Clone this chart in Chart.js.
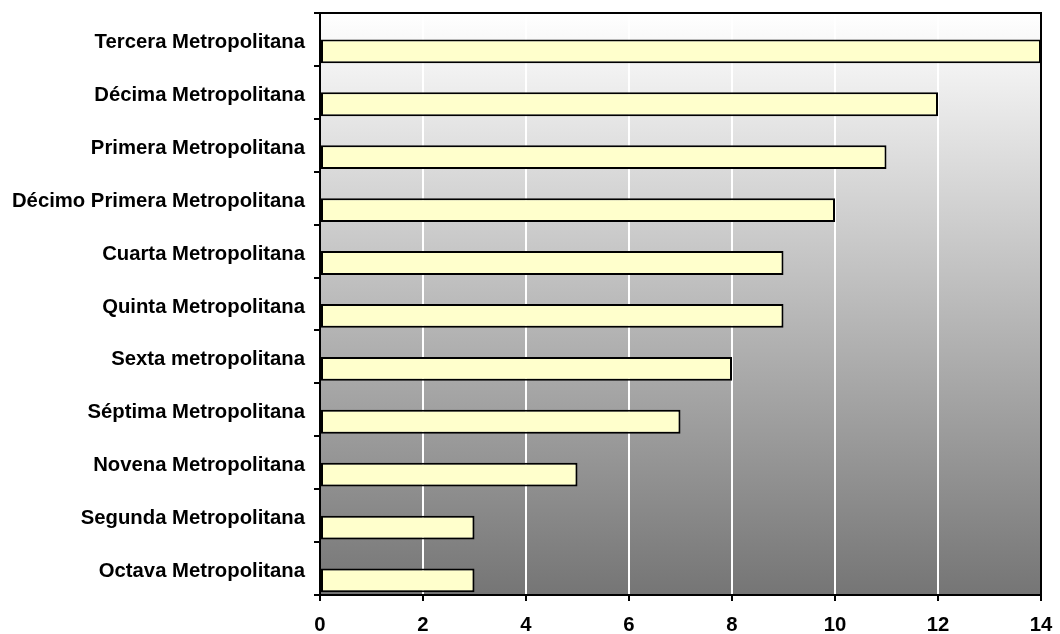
<!DOCTYPE html>
<html>
<head>
<meta charset="utf-8">
<script src="https://cdn.jsdelivr.net/npm/chart.js@4.4.1/dist/chart.umd.min.js"></script>
<style>
  html, body { margin: 0; padding: 0; background: #ffffff; }
  #wrap { width: 1060px; height: 634px; }
</style>
</head>
<body>
<div id="wrap"><canvas id="c" width="1060" height="634"></canvas></div>
<script>
// Regional offices, top to bottom
const categories = [
  'Tercera Metropolitana',
  'Décima Metropolitana',
  'Primera Metropolitana',
  'Décimo Primera Metropolitana',
  'Cuarta Metropolitana',
  'Quinta Metropolitana',
  'Sexta metropolitana',
  'Séptima Metropolitana',
  'Novena Metropolitana',
  'Segunda Metropolitana',
  'Octava Metropolitana'
];
const values = [14, 12, 11, 10, 9, 9, 8, 7, 5, 3, 3];
const xTicks = [0, 2, 4, 6, 8, 10, 12, 14];

// Empty companion series so every bar sits in the lower half of its row
const spacer = categories.map(() => null);

const FONT = { family: '"Liberation Sans", Arial, sans-serif', size: 20.3, weight: 'bold' };

// Grey gradient behind the plot and a black frame round it
const plotBackground = {
  id: 'plotBackground',
  beforeDraw(chart) {
    const { ctx, chartArea: a } = chart;
    const g = ctx.createLinearGradient(0, a.top, 0, a.bottom);
    g.addColorStop(0, '#ffffff');
    g.addColorStop(1, '#757575');
    ctx.save();
    ctx.fillStyle = g;
    ctx.fillRect(a.left, a.top, a.right - a.left, a.bottom - a.top);
    ctx.restore();
  },
  afterDraw(chart) {
    const { ctx, chartArea: a } = chart;
    ctx.save();
    ctx.strokeStyle = '#000000';
    ctx.lineWidth = 2;
    ctx.strokeRect(a.left, a.top, a.right - a.left, a.bottom - a.top);
    ctx.restore();
  }
};

new Chart(document.getElementById('c'), {
  type: 'bar',
  data: {
    labels: categories,
    datasets: [
      { data: spacer, backgroundColor: 'rgba(0,0,0,0)', borderWidth: 0 },
      {
        data: values,
        backgroundColor: '#ffffcc',
        borderColor: '#000000',
        borderWidth: 2,
        borderSkipped: false
      }
    ]
  },
  options: {
    indexAxis: 'y',
    responsive: false,
    animation: false,
    devicePixelRatio: 1,
    layout: { padding: { top: 13, right: 19, left: 0, bottom: 0 } },
    datasets: { bar: { categoryPercentage: 0.9, barPercentage: 1.0 } },
    plugins: {
      legend: { display: false },
      tooltip: { enabled: false }
    },
    scales: {
      x: {
        type: 'linear',
        min: 0,
        max: 14,
        afterBuildTicks(scale) { scale.ticks = xTicks.map(v => ({ value: v })); },
        afterFit(scale) {
          scale.height = 39;
          scale.paddingLeft = 0;
          scale.paddingRight = 0;
        },
        ticks: { color: '#000000', font: FONT, padding: 12 },
        grid: {
          color: (c) => (c.tick && (c.tick.value === 0 || c.tick.value === 14)) ? 'rgba(0,0,0,0)' : '#ffffff',
          lineWidth: 2,
          tickColor: '#000000',
          tickLength: 6
        },
        border: { color: '#000000', width: 2 }
      },
      y: {
        afterFit(scale) {
          scale.width = 320;
          scale.paddingTop = 0;
          scale.paddingBottom = 0;
        },
        ticks: {
          color: '#000000', font: FONT, padding: 9, autoSkip: false,
          labelOffset: 3
        },
        grid: {
          offset: true,
          drawOnChartArea: false,
          color: '#000000',
          tickColor: '#000000',
          tickLength: 6,
          lineWidth: 2
        },
        border: { color: '#000000', width: 2 }
      }
    }
  },
  plugins: [plotBackground]
});
</script>
</body>
</html>
